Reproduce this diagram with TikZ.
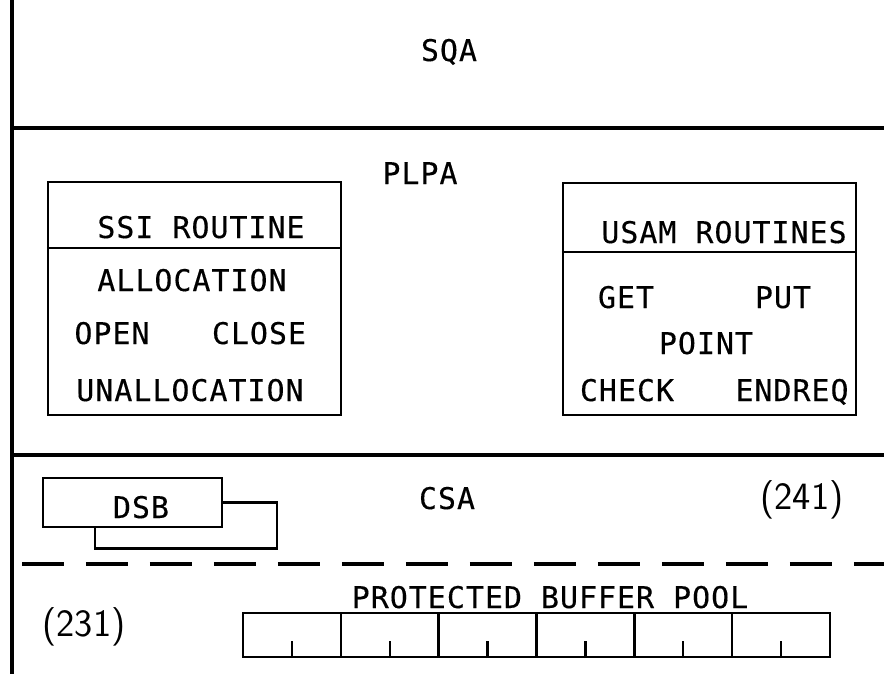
\documentclass[tikz,border=0pt]{standalone}
\usepackage{fontspec}
\setmonofont{DejaVu Sans Mono}[LetterSpace=3.5,FakeBold=0.3]
\usetikzlibrary{positioning}

\tikzset{
  label/.style={font=\ttfamily\fontsize{17}{20}\selectfont,inner sep=0pt,text height=0.44cm,text depth=0pt},
  number/.style={font=\sffamily\fontsize{22}{26}\selectfont,inner sep=0pt},
  routinebox/.style={draw,line width=1.3pt,minimum width=5.86cm,inner sep=0pt},
  cell/.style={draw,line width=1.3pt,minimum width=1.95cm,minimum height=0.88cm,inner sep=0pt},
  divider/.style={line width=1.8pt}
}

\begin{document}
\begin{tikzpicture}[x=0.02cm,y=-0.02cm]

\useasboundingbox (0,0) rectangle (884,674);

% areas
\draw[divider] (12,0)--(12,674);
\draw[divider] (12,128)--(884,128);
\draw[divider] (12,455)--(884,455);
\draw[divider,dash pattern=on 0.84cm off 0.44cm] (22,564)--(884,564);

\node[label] (sqa) at (449,50) {SQA};
\node[label] (plpa) at (420,173) {PLPA};
\node[label] (csa) at (447,498) {CSA};

% SSI routine
\node[routinebox,minimum height=4.66cm] (ssi) at (194.5,298.5) {};
\draw[line width=1.3pt] (ssi.west |- 0,248)--(ssi.east |- 0,248);
\node[label] (ssititle) at (201,227) {SSI ROUTINE};
\node[label] (alloc) at (192,280) {ALLOCATION};
\node[label] (open) at (112,333) {OPEN};
\node[label] (close) at (259,333) {CLOSE};
\node[label] (unalloc) at (190,390) {UNALLOCATION};

% USAM routines
\node[routinebox,minimum height=4.64cm] (usam) at (709.5,299) {};
\draw[line width=1.3pt] (usam.west |- 0,252)--(usam.east |- 0,252);
\node[label] (usamtitle) at (724,232) {USAM ROUTINES};
\node[label] (get) at (626,297) {GET};
\node[label] (put) at (783,297) {PUT};
\node[label] (point) at (706,343) {POINT};
\node[label] (check) at (627,390) {CHECK};
\node[label] (endreq) at (792,390) {ENDREQ};

% DSB
\node[draw,line width=1.3pt,minimum width=3.58cm,minimum height=0.98cm,inner sep=0pt] (dsb) at (132.5,502.5) {};
\node[label] (dsbtext) at (141,507) {DSB};
\draw[line width=1.3pt] (dsb.east)--++(54,0)--++(0,46)--++(-182,0)--++(0,-22);

\node[number] (csanum) at (802,500) {(241)};
\node[number] (poolnum) at (84,627) {(231)};

% buffer pool
\node[label] (pool) at (550,597) {PROTECTED BUFFER POOL};
\foreach \i in {0,...,5}
{
\node[cell] (cell\i) at (292+97.8*\i,635) {};
\draw[line width=1.3pt] (cell\i.south)--++(0,-17);
}

\end{tikzpicture}
\end{document}
